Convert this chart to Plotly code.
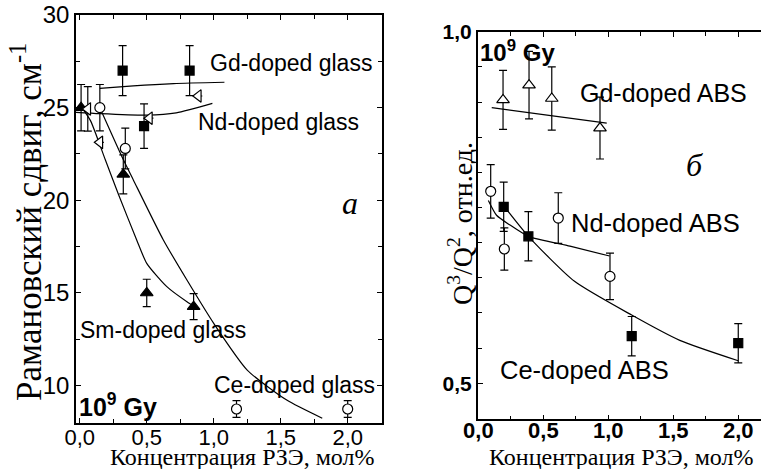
import plotly.graph_objects as go

W, H = 761, 469

# ---------------- Left panel (а): Raman shift ----------------
gd_glass_x = [0.32, 0.48, 0.82]
gd_glass_y = [27.0, 24.0, 27.0]
gd_glass_err = [1.35, 1.2, 1.35]

nd_glass_x = [0.06, 0.15, 0.52, 0.885]
nd_glass_y = [24.93, 23.13, 24.43, 25.63]
nd_glass_err = [1.2, 0, 0, 0]

sm_glass_x = [0.01, 0.325, 0.5, 0.85]
sm_glass_y = [25.0, 21.4, 15.0, 14.26]
sm_glass_err = [1.25, 1.05, 0.74, 0.7]

ce_glass_x = [0.15, 0.34, 1.17, 2.0]
ce_glass_y = [25.0, 22.8, 8.74, 8.74]
ce_glass_err = [1.25, 1.1, 0.45, 0.45]

gd_glass_fit_x = [0.15, 0.4, 0.7, 1.08]
gd_glass_fit_y = [26.04, 26.18, 26.3, 26.37]
nd_glass_fit_x = [-0.028, 0.15, 0.5, 0.72, 0.99]
nd_glass_fit_y = [24.75, 24.68, 24.6, 24.72, 25.23]
sm_glass_fit_x = [0.015, 0.08, 0.19, 0.29, 0.425, 0.5, 0.65, 0.8, 0.87]
sm_glass_fit_y = [25.0, 24.3, 22.2, 20.3, 17.86, 16.6, 15.34, 14.53, 14.22]
ce_glass_fit_x = [0.15, 0.325, 0.4, 0.624, 0.8, 1.0, 1.25, 1.545, 1.81]
ce_glass_fit_y = [25.0, 22.2, 21.1, 17.86, 15.7, 13.36, 10.84, 9.22, 8.24]

# ---------------- Right panel (б): Q3/Q2 ----------------
gd_abs_x = [0.19, 0.39, 0.565, 0.936]
gd_abs_y = [0.903, 0.924, 0.905, 0.863]
gd_abs_err = [0.042, 0.048, 0.045, 0.044]

nd_abs_x = [0.095, 0.2, 0.615, 1.013]
nd_abs_y = [0.773, 0.691, 0.735, 0.652]
nd_abs_err = [0.038, 0.03, 0.036, 0.033]

ce_abs_x = [0.195, 0.385, 1.18, 2.0]
ce_abs_y = [0.751, 0.709, 0.567, 0.557]
ce_abs_err = [0.035, 0.035, 0.028, 0.028]

gd_abs_fit_x = [0.103, 0.988]
gd_abs_fit_y = [0.892, 0.870]
nd_abs_fit_x = [0.077, 0.14, 0.244, 0.385, 0.705, 1.01]
nd_abs_fit_y = [0.760, 0.739, 0.725, 0.709, 0.695, 0.681]
ce_abs_fit_x = [0.18, 0.385, 0.74, 1.18, 1.55, 2.0]
ce_abs_fit_y = [0.756, 0.709, 0.645, 0.597, 0.561, 0.532]

left_xticks = [0, 0.5, 1.0, 1.5, 2.0]
left_xtext = ["0,0", "0,5", "1,0", "1,5", "2,0"]
left_xminor = [0.25, 0.75, 1.25, 1.75, 2.25]
left_yticks = [10, 15, 20, 25, 30]
left_ytext = ["10", "15", "20", "25", "30"]
left_yminor = [12.5, 17.5, 22.5, 27.5]
right_xticks = [0, 0.5, 1.0, 1.5, 2.0]
right_xtext = ["<b>0,0</b>", "<b>0,5</b>", "<b>1,0</b>", "<b>1,5</b>", "<b>2,0</b>"]
right_xminor = [0.25, 0.75, 1.25, 1.75]
right_yticks = [0.5, 1.0]
right_ytext = ["<b>0,5</b>", "<b>1,0</b>"]
right_yminor = [0.55, 0.6, 0.65, 0.7, 0.75, 0.8, 0.85, 0.9, 0.95]

SANS = "Liberation Sans, Arial, sans-serif"
SERIF = "Liberation Serif, Times New Roman, serif"

fig = go.Figure()


def fit(x, y, xa, ya):
    fig.add_trace(go.Scatter(x=x, y=y, mode="lines", xaxis=xa, yaxis=ya,
                             line=dict(color="black", width=1.2, shape="spline", smoothing=0.6),
                             showlegend=False, hoverinfo="skip"))


def pts(x, y, err, sym, filled, xa, ya, size=10):
    fig.add_trace(go.Scatter(
        x=x, y=y, mode="markers", xaxis=xa, yaxis=ya, showlegend=False,
        error_y=dict(type="data", array=err, visible=True, color="black", thickness=1.2, width=4),
        marker=dict(symbol=sym, size=size, color="black" if filled else "white",
                    line=dict(color="black", width=1.2))))


# left panel
fit(gd_glass_fit_x, gd_glass_fit_y, "x", "y")
fit(nd_glass_fit_x, nd_glass_fit_y, "x", "y")
fit(sm_glass_fit_x, sm_glass_fit_y, "x", "y")
fit(ce_glass_fit_x, ce_glass_fit_y, "x", "y")
pts(ce_glass_x, ce_glass_y, ce_glass_err, "circle", False, "x", "y", 10)
pts(sm_glass_x, sm_glass_y, sm_glass_err, "triangle-up", True, "x", "y", 11)
pts(nd_glass_x, nd_glass_y, nd_glass_err, "triangle-left", False, "x", "y", 11)
pts(gd_glass_x, gd_glass_y, gd_glass_err, "square", True, "x", "y", 9)

# right panel
fit(gd_abs_fit_x, gd_abs_fit_y, "x2", "y2")
fit(nd_abs_fit_x, nd_abs_fit_y, "x2", "y2")
fit(ce_abs_fit_x, ce_abs_fit_y, "x2", "y2")
pts(gd_abs_x, gd_abs_y, gd_abs_err, "triangle-up", False, "x2", "y2", 11)
pts(nd_abs_x, nd_abs_y, nd_abs_err, "circle", False, "x2", "y2", 10)
pts(ce_abs_x, ce_abs_y, ce_abs_err, "square", True, "x2", "y2", 9)

axis_common = dict(showgrid=False, zeroline=False, showline=True, linecolor="black",
                   linewidth=1.6, ticks="inside", ticklen=5, tickcolor="black", tickwidth=1.2,
                   automargin=False)


def minor(vals):
    return dict(tickvals=vals, ticks="inside", ticklen=4, tickcolor="black", tickwidth=1.0)


fig.update_layout(
    width=W, height=H, margin=dict(l=0, r=0, t=0, b=0),
    paper_bgcolor="white", plot_bgcolor="white",
    xaxis=dict(domain=[76 / W, 382 / W], range=[-0.028, 2.256], mirror="ticks",
               tickvals=left_xticks, ticktext=left_xtext, minor=minor(left_xminor),
               ticklabelstandoff=-6,
               tickfont=dict(family=SANS, size=22, color="black"), anchor="y", **axis_common),
    yaxis=dict(domain=[1 - 422.7 / H, 1 - 15 / H], range=[8.0, 30.0], mirror="ticks",
               tickvals=left_yticks, ticktext=left_ytext, minor=minor(left_yminor),
               tickfont=dict(family=SANS, size=24, color="black"), anchor="x", **axis_common),
    xaxis2=dict(domain=[477.7 / W, 1.0], range=[-0.005, 2.175], mirror="ticks",
                tickvals=right_xticks, ticktext=right_xtext, minor=minor(right_xminor),
                ticklabelstandoff=-10,
                tickfont=dict(family=SANS, size=22, color="black"), anchor="y2", **axis_common),
    yaxis2=dict(domain=[1 - 419.3 / H, 1 - 31.7 / H], range=[0.4488, 1.0], mirror=False,
                tickvals=right_yticks, ticktext=right_ytext, minor=minor(right_yminor),
                tickfont=dict(family=SANS, size=21, color="black"), anchor="x2", **axis_common),
)

ann = []


def txt(x, y, t, xref, yref, size, family=SANS, xanchor="left", angle=0):
    ann.append(dict(x=x, y=y, text=t, xref=xref, yref=yref, showarrow=False,
                    xanchor=xanchor, yanchor="middle", textangle=angle,
                    font=dict(family=family, size=size, color="black")))


# left panel labels
txt(0.96, 27.41, "Gd-doped glass", "x", "y", 23)
txt(0.87, 24.23, "Nd-doped glass", "x", "y", 23)
txt(-0.01, 13.0, "Sm-doped glass", "x", "y", 23)
txt(0.985, 10.03, "Ce-doped glass", "x", "y", 23)
txt(-0.02, 8.95, "<b>10<sup>9</sup> Gy</b>", "x", "y", 25)
txt(2.02, 19.85, "<i>а</i>", "x", "y", 32, SERIF, "center")

# right panel labels
txt(0.0, 0.972, "<b>10<sup>9</sup> Gy</b>", "x2", "y2", 24)
txt(0.765, 0.913, "Gd-doped ABS", "x2", "y2", 25)
txt(1.666, 0.81, "<i>б</i>", "x2", "y2", 32, SERIF, "center")
txt(0.7, 0.728, "Nd-doped ABS", "x2", "y2", 25.5)
txt(0.15, 0.519, "Ce-doped ABS", "x2", "y2", 25.5)

# axis titles
txt(27 / W, 1 - 222 / H, "Рамановский сдвиг, см<sup>-1</sup>", "paper", "paper", 35, SERIF, "center", -90)
txt(242 / W, 1 - 457 / H, "Концентрация РЗЭ, мол%", "paper", "paper", 24, SERIF, "center")
txt(621 / W, 1 - 457 / H, "Концентрация РЗЭ, мол%", "paper", "paper", 24, SERIF, "center")
txt(460 / W, 1 - 224 / H, "Q<sup>3</sup>/Q<sup>2</sup>, отн.ед.", "paper", "paper", 28, SERIF, "center", -90)

fig.update_layout(annotations=ann)
fig.write_html("out.html", post_script="document.body.style.margin='0px';")
